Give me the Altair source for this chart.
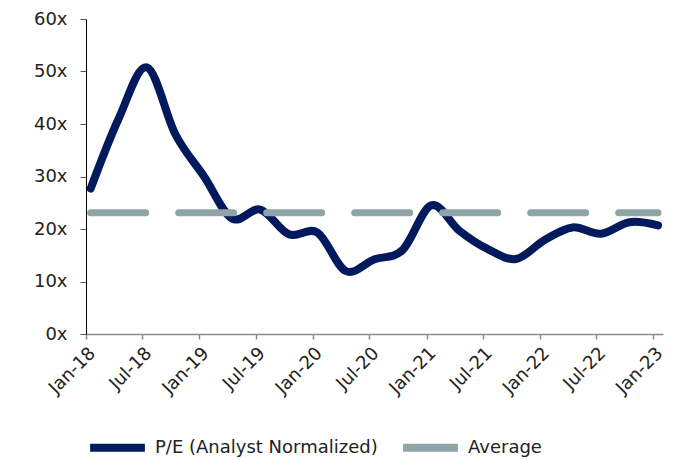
import altair as alt
import pandas as pd

dates = ["2018-01-16", "2018-04-16", "2018-07-16", "2018-10-16",
         "2019-01-16", "2019-04-16", "2019-07-16", "2019-10-16",
         "2020-01-16", "2020-04-16", "2020-07-16", "2020-10-16",
         "2021-01-16", "2021-04-16", "2021-07-16", "2021-10-16",
         "2022-01-16", "2022-04-16", "2022-07-16", "2022-10-16",
         "2023-01-16"]
pe = [27.7, 41.0, 50.8, 38.0, 30.0, 22.0, 23.7, 19.0, 19.3, 12.0, 14.2,
      16.0, 24.5, 19.7, 16.2, 14.3, 17.9, 20.3, 19.1, 21.3, 20.7]
avg_value = 23.1
series_names = ["P/E (Analyst Normalized)", "Average"]
series_colors = ["#011A5E", "#8FA4A8"]
y_ticks = [0, 10, 20, 30, 40, 50, 60]
x_tick_years = [2018, 2018, 2019, 2019, 2020, 2020, 2021, 2021, 2022, 2022, 2023]
x_tick_months = [1, 7, 1, 7, 1, 7, 1, 7, 1, 7, 1]

df_pe = pd.DataFrame({"date": [d + "T00:00:00" for d in dates], "value": pe,
                      "series": series_names[0]})
df_avg = pd.DataFrame({"date": [d + "T00:00:00" for d in dates],
                       "value": [avg_value] * len(dates),
                       "series": series_names[1]})

FONT = "DejaVu Sans"
FS = 18

x_enc = alt.X(
    "date:T",
    scale=alt.Scale(domain=[alt.DateTime(year=2018, month=1, date=1),
                            alt.DateTime(year=2023, month=2, date=1)]),
    axis=alt.Axis(
        values=[alt.DateTime(year=y, month=m, date=1)
                for y, m in zip(x_tick_years, x_tick_months)],
        format="%b-%y", labelAngle=-45, title=None, grid=False,
        domainColor="#8c8c8c", domainWidth=1.5, tickColor="#8c8c8c",
        tickSize=5, tickWidth=1.5, labelPadding=5,
    ),
)
y_enc = alt.Y(
    "value:Q",
    scale=alt.Scale(domain=[0, 60], nice=False),
    axis=alt.Axis(
        values=y_ticks, labelExpr="datum.value + 'x'", title=None, grid=False,
        domainColor="#000000", domainWidth=1, tickColor="#555555",
        tickSize=6, labelPadding=13,
    ),
)
color_enc = alt.Color(
    "series:N",
    scale=alt.Scale(domain=series_names, range=series_colors),
    legend=alt.Legend(
        title=None, orient="none", direction="horizontal",
        legendX=0, legendY=397,
        symbolType="stroke", symbolSize=3000, symbolStrokeWidth=8,
        labelFontSize=FS, labelFont=FONT, labelColor="#222222",
        labelOffset=6, columnPadding=9, labelLimit=400,
    ),
)

pe_line = alt.Chart(df_pe).mark_line(
    strokeWidth=8, interpolate="cardinal", strokeCap="round", strokeJoin="round"
).encode(x=x_enc, y=y_enc, color=color_enc)

avg_line = alt.Chart(df_avg).mark_line(
    strokeWidth=7, strokeDash=[55, 33], strokeCap="round"
).encode(x=x_enc, y=y_enc, color=color_enc)

chart = (
    alt.layer(pe_line, avg_line)
    .properties(
        width=577, height=315,
        autosize=alt.AutoSizeParams(type="none"),
        padding={"left": 78, "top": 11, "right": 10, "bottom": 124},
    )
    .configure_view(stroke=None)
    .configure_axis(labelFont=FONT, labelFontSize=FS, labelColor="#222222")
)

chart.save("out.html", embed_options={"renderer": "svg", "actions": False})
